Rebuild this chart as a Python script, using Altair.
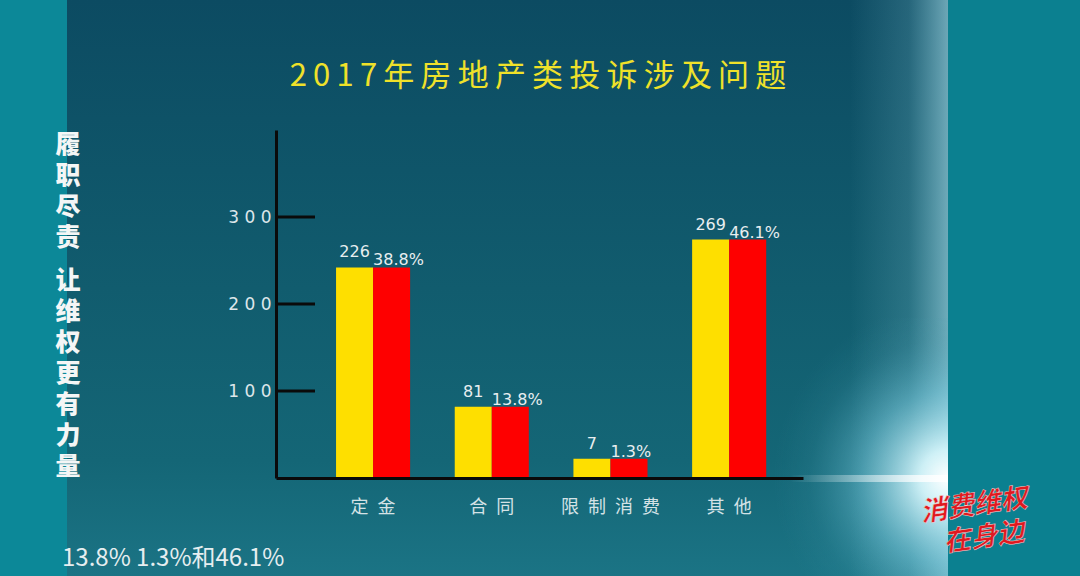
import altair as alt
import pandas as pd

# ---- data ----
categories = ["定金", "合同", "限制消费", "其他"]
count_labels = ["226", "81", "7", "269"]
percent_labels = ["38.8%", "13.8%", "1.3%", "46.1%"]
bar_heights = [242, 82, 22, 274]          # bar tops as drawn against the axis
series = ["数量", "占比"]
tick_values = [100, 200, 300]
title_text = "2017年房地产类投诉涉及问题"
side_top = ["履", "职", "尽", "责"]
side_bottom = ["让", "维", "权", "更", "有", "力", "量"]
caption = "13.8% 1.3%和46.1%"
logo_lines = ["消费维权", "在身边"]

# ---- tables ----
bars_df = pd.DataFrame(
    [{"cat": c, "series": s, "h": h} for c, h in zip(categories, bar_heights) for s in series]
)
count_df = pd.DataFrame({"cat": categories, "series": series[0], "h": bar_heights, "label": count_labels})
pct_df = pd.DataFrame({"cat": categories, "series": series[1], "h": bar_heights, "label": percent_labels})
tick_df = pd.DataFrame({"h": tick_values})

W, H = 527, 348
PL, PT = 276, 130
CJK = "Noto Sans CJK SC"

x_enc = alt.X(
    "cat:N", sort=categories,
    scale=alt.Scale(paddingInner=0.376, paddingOuter=0.408, align=0.62),
    axis=alt.Axis(
        title=None, ticks=False, domainColor="#0a0a0a", domainWidth=3, labelAngle=0,
        labelPadding=20, labelFont=CJK, labelFontSize=18, labelColor="#d4e2e6",
        labelExpr="join(split(datum.label, ''), '\u2002')", zindex=1,
    ),
)
xoff_enc = alt.XOffset("series:N", sort=series, scale=alt.Scale(paddingInner=0, paddingOuter=0))
y_enc = alt.Y(
    "h:Q", scale=alt.Scale(domain=[0, 400], nice=False),
    axis=alt.Axis(
        title=None, values=tick_values, ticks=False, grid=False, domainColor="#0a0a0a",
        domainWidth=3, labelExpr="join(split(datum.label, ''), ' ')", labelFont="DejaVu Sans",
        labelFontSize=17, labelColor="#dde6ea", labelPadding=5, zindex=1,
    ),
)

one = alt.Data(values=[{}])


def rect(x0, x1, y0, y1, fill):
    return alt.Chart(one).mark_rect(fill=fill).encode(
        x=alt.value(x0 - PL), x2=alt.value(x1 - PL), y=alt.value(y0 - PT), y2=alt.value(y1 - PT)
    )


def lin(stops, x2=0, y2=1):
    return alt.LinearGradient(
        gradient="linear", x1=0, y1=0, x2=x2, y2=y2,
        stops=[alt.GradientStop(offset=o, color=c) for o, c in stops],
    )


panel = rect(67, 948, 0, 576, lin([(0, "#0c4b62"), (0.5, "#115c6e"), (0.8, "#146676"), (1, "#1b7485")]))
right_edge = rect(850, 948, 0, 576, lin([(0, "rgba(130,195,210,0)"), (0.6, "rgba(130,195,210,0.22)"),
                                        (1, "rgba(150,205,218,0.7)")], x2=1, y2=0))
glow = rect(600, 948, 318, 638, alt.RadialGradient(
    gradient="radial", x1=1, y1=0.5, r1=0, x2=1, y2=0.5, r2=1,
    stops=[alt.GradientStop(offset=0, color="rgba(255,255,255,1)"),
           alt.GradientStop(offset=0.08, color="rgba(220,250,255,0.9)"),
           alt.GradientStop(offset=0.25, color="rgba(130,210,230,0.45)"),
           alt.GradientStop(offset=0.4, color="rgba(80,165,185,0.12)"),
           alt.GradientStop(offset=0.5, color="rgba(60,150,170,0)")]))
streak = rect(790, 948, 475, 482, lin([(0, "rgba(255,255,255,0)"), (1, "rgba(255,255,255,0.9)")], x2=1, y2=0))
left_strip = rect(0, 67, 0, 576, "#0c8898")
right_strip = rect(948, 1080, 0, 576, "#0b8090")

bars = alt.Chart(bars_df).mark_bar(width={"band": 1}).encode(
    x=x_enc, xOffset=xoff_enc, y=y_enc,
    color=alt.Color("series:N", sort=series, legend=None,
                    scale=alt.Scale(domain=series, range=["#fedf00", "#fe0000"])),
)
ticks = alt.Chart(tick_df).mark_rule(color="#0a0a0a", strokeWidth=3).encode(
    y=y_enc, x=alt.value(0), x2=alt.value(39)
)
counts = alt.Chart(count_df).mark_text(
    align="center", baseline="alphabetic", dy=-10, font="DejaVu Sans", fontSize=16, color="#e8eef0"
).encode(x=x_enc, xOffset=xoff_enc, y=y_enc, text="label:N")
pcts = alt.Chart(pct_df).mark_text(
    align="left", baseline="alphabetic", dx=-18.5, dy=-2, font="DejaVu Sans", fontSize=16, color="#e8eef0"
).encode(x=x_enc, xOffset=xoff_enc, y=y_enc, text="label:N")


def label(text, x, y, **kw):
    return alt.Chart(one).mark_text(**kw).encode(
        x=alt.value(x - PL), y=alt.value(y - PT), text=alt.value(text)
    )


title = label("\u2009".join(list(title_text)), 538, 77, font=CJK, fontSize=31, color="#efe12a",
              align="center", baseline="middle")

side_kw = dict(font=CJK, fontSize=25, fontWeight=900, align="center", baseline="top", lineHeight=31,
               color="#f4f6f6")
side = alt.layer(
    label(side_top, 68, 133, **side_kw),
    label(side_bottom, 68, 269, **side_kw),
)

cap = label(caption, 62, 566, font=CJK, fontSize=24, color="#e6eef0", align="left", baseline="alphabetic")

logo_kw = dict(font=CJK, fontWeight="bold", fontStyle="italic", align="center", baseline="middle",
               angle=352, fontSize=27, color="#e0191f", stroke="#f2d0d0", strokeWidth=0.5)
logo = alt.layer(
    label(logo_lines[0], 974, 506, **logo_kw),
    label(logo_lines[1], 984, 538, **logo_kw),
)

chart = alt.layer(
    panel, right_edge, glow, streak, left_strip, right_strip,
    bars, ticks, counts, pcts, title, side, cap, logo,
).properties(
    width=W, height=H,
    padding={"left": PL, "top": PT, "right": 1080 - PL - W, "bottom": 576 - PT - H},
    autosize=alt.AutoSizeParams(type="none"),
).configure(background="#0e5468").configure_view(stroke=None)

chart.save("out.html", embed_options={"renderer": "svg", "actions": False})
